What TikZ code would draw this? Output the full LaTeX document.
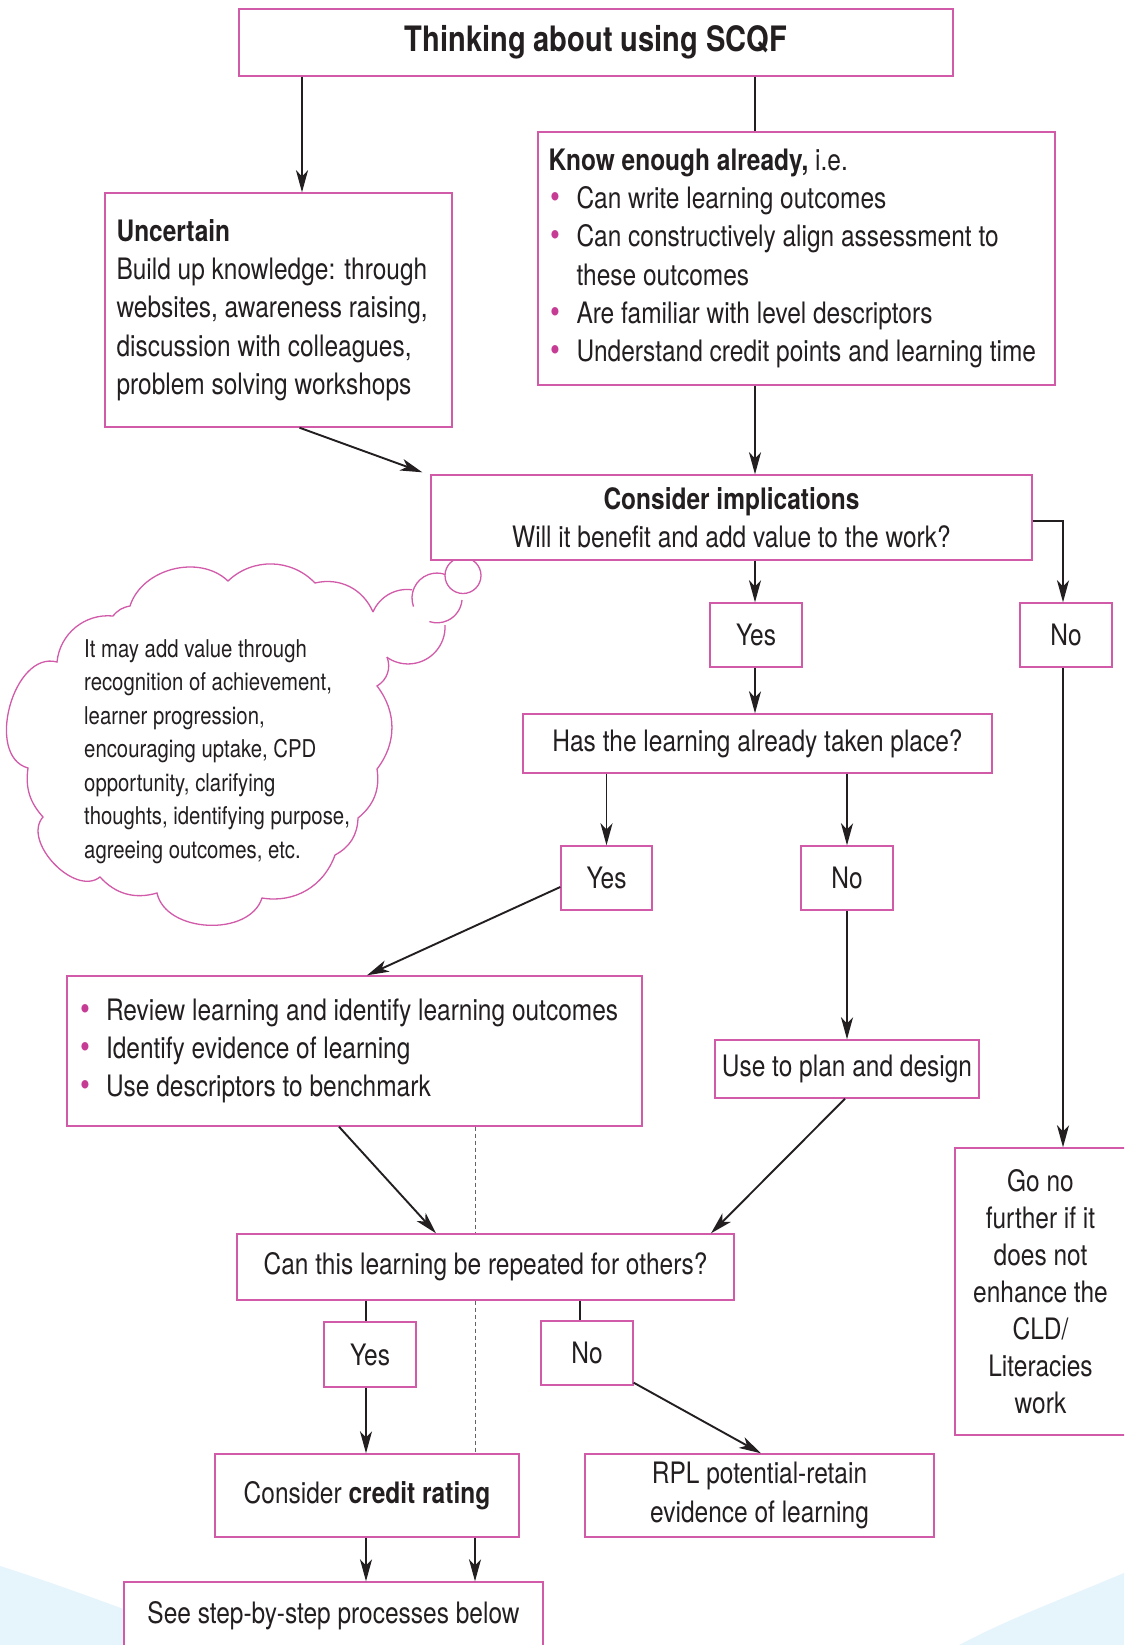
\documentclass[tikz,border=0pt]{standalone}
\usepackage{fontspec}
\setmainfont{TeX Gyre Heros}[FakeStretch=0.83]
\usetikzlibrary{arrows.meta,calc}
\definecolor{mag}{HTML}{D15AA9}
\definecolor{bulc}{HTML}{C63C95}
\definecolor{ink}{HTML}{231F20}
\definecolor{bgblue}{HTML}{E6F4FC}
\newcommand\bul{\makebox[28pt][l]{\hspace{2pt}\textcolor{bulc}{\fontsize{34}{34}\selectfont\textbullet}}}
\newcommand\ind{\hspace*{28pt}}
\begin{document}
\begin{tikzpicture}[x=1pt,y=-1pt,
  box/.style={draw=mag, line width=1.4pt, fill=white, inner sep=0pt, text=ink,
    font=\fontsize{29.5}{38.3}\selectfont, align=center},
  txt/.style={inner sep=0pt, text=ink, font=\fontsize{29.5}{38.3}\selectfont, align=left},
  arr/.style={draw=ink, line width=1.9pt, -{Stealth[length=22pt,width=12pt,inset=6pt]}},
  ln/.style={draw=ink, line width=1.9pt},
  dsh/.style={draw=ink!70, line width=0.9pt, dash pattern=on 4pt off 3pt},
  cloudline/.style={draw=mag, line width=1.3pt}
]
\useasboundingbox (0,0) rectangle (1124,1645);
\clip (0,0) rectangle (1124,1645);
\fill[white] (0,0) rectangle (1124,1645);
% light blue background
\fill[bgblue] (0,1566) .. controls (60,1585) and (150,1618) .. (230,1650) -- (0,1650) -- cycle;
\fill[bgblue] (1124,1573) .. controls (1060,1600) and (1000,1622) .. (950,1650) -- (1124,1650) -- cycle;

% named coordinates for connector columns
\coordinate (cL) at (302,0);
\coordinate (cSpine) at (755,0);
\coordinate (cDash) at (475,0);
\coordinate (cYes3) at (366,0);
\coordinate (cNo3) at (580,0);

% cloud
\coordinate (P1) at (57,662);
\coordinate (P2) at (113,616);
\coordinate (P3) at (130,606);
\coordinate (P4) at (228,581);
\coordinate (P5) at (315,583);
\coordinate (P6) at (373,612);
\coordinate (P7) at (387,657);
\coordinate (P8) at (377,686);
\coordinate (P9) at (377,769);
\coordinate (P10) at (358,818);
\coordinate (P11) at (335,855);
\coordinate (P12) at (262,898);
\coordinate (P13) at (157,893);
\coordinate (P14) at (100,877);
\coordinate (P15) at (43,817);
\coordinate (P16) at (28,768);
\draw[cloudline] (P7) to[bend left=40] (P8) to[bend left=38] (P9) to[bend left=30] (P10)
  to[bend left=30] (P11) to[bend left=40] (P12) to[bend left=75] (P13) to[bend left=32] (P14)
  to[bend left=85] (P15) to[bend left=25] (P16) to[bend left=90,looseness=1.05] (P1)
  to[bend left=45] (P2) to[bend left=20] (P3) to[bend left=58] (P4) to[bend left=45] (P5)
  to[bend left=40] (P6);
% thought bubbles
\draw[cloudline] (P6) arc[start angle=157, end angle=82, radius=37pt];
\draw[cloudline] (445,625) arc[start angle=3, end angle=-125, radius=37pt];
\draw[cloudline] (413.5,606.6) arc[start angle=200, end angle=70, radius=25pt];
\draw[cloudline] (462,600) arc[start angle=-5, end angle=-108, radius=25pt];
\draw[cloudline, fill=white] (463,575.5) circle[radius=18pt];
\node[txt, font=\fontsize{24.5}{33.5}\selectfont, anchor=west] (cloudtxt) at (84,751.7)
  {It may add value through\\recognition of achievement,\\learner progression,\\encouraging uptake, CPD\\opportunity, clarifying\\thoughts, identifying purpose,\\agreeing outcomes, etc.};

% dashed guide line
\node[box, minimum width=575pt, minimum height=150pt] (review) at (354.5,1051) {};
\node[box, minimum width=497pt, minimum height=66pt] (can) at (485.5,1267) {Can this learning be repeated for others?};
\node[box, minimum width=304pt, minimum height=83pt] (credit) at (367,1495.5) {Consider \textbf{credit rating}};
\draw[dsh] (review.south -| cDash) -- (can.north -| cDash);
\draw[dsh] (can.south -| cDash) -- (credit.north -| cDash);

% boxes
\node[box, minimum width=714pt, minimum height=67pt, font=\fontsize{35}{40}\selectfont\bfseries] (title) at (596,42.5) {Thinking about using SCQF};
\node[box, minimum width=347pt, minimum height=234pt] (unc) at (278.5,310) {};
\node[txt, anchor=west] (unctxt) at ([xshift=12pt]unc.west)
  {\textbf{Uncertain}\\Build up knowledge: through\\websites, awareness raising,\\discussion with colleagues,\\problem solving workshops};
\node[box, minimum width=517pt, minimum height=253pt] (know) at (796.5,258.5) {};
\node[txt, anchor=west] (knowtxt) at ([xshift=11pt]know.west)
  {\textbf{Know enough already,} i.e.\\\bul Can write learning outcomes\\\bul Can constructively align assessment to\\\ind these outcomes\\\bul Are familiar with level descriptors\\\bul Understand credit points and learning time};
\node[box, minimum width=601pt, minimum height=85pt] (cons) at (731.5,517.5)
  {\textbf{Consider implications}\\Will it benefit and add value to the work?};
\node[box, minimum width=92pt, minimum height=64pt] (yes1) at (756,635) {Yes};
\node[box, minimum width=92pt, minimum height=64pt] (no1) at (1066,635) {No};
\node[box, minimum width=469pt, minimum height=59pt] (has) at (757.5,743.5) {Has the learning already taken place?};
\node[box, minimum width=91pt, minimum height=64pt] (yes2) at (606.5,878) {Yes};
\node[box, minimum width=92pt, minimum height=64pt] (no2) at (847,878) {No};
\node[txt, anchor=west] (reviewtxt) at ([xshift=11.5pt]review.west)
  {\bul Review learning and identify learning outcomes\\\bul Identify evidence of learning\\\bul Use descriptors to benchmark};
\node[box, minimum width=264pt, minimum height=58pt] (plan) at (847,1069) {Use to plan and design};
\node[box, minimum width=171pt, minimum height=287pt, font=\fontsize{29.5}{37}\selectfont] (gonf) at (1040.5,1291.5)
  {Go no\\further if it\\does not\\enhance the\\CLD/\\Literacies\\work};
\node[box, minimum width=92pt, minimum height=65pt] (yes3) at (370,1354.5) {Yes};
\node[box, minimum width=92pt, minimum height=64pt] (no3) at (587,1353) {No};
\node[box, minimum width=349pt, minimum height=83pt] (rpl) at (759.5,1495.5) {RPL potential-retain\\evidence of learning};
\node[box, minimum width=419pt, minimum height=68pt] (see) at (333.5,1616) {See step-by-step processes below};

% connectors
\draw[arr] (title.south -| cL) -- (unc.north -| cL);
\draw[ln] (title.south -| cSpine) -- (know.north -| cSpine);
\draw[arr] (know.south -| cSpine) -- (cons.north -| cSpine);
\draw[arr] ([xshift=21pt]unc.south) -- ([xshift=-8pt,yshift=2pt]cons.north west);
\draw[arr] (cons.south -| cSpine) -- (yes1.north -| cSpine);
\draw[arr] ([yshift=-3.5pt]cons.east) -| ([xshift=-3pt]no1.north);
\draw[arr] (yes1.south -| cSpine) -- (has.north -| cSpine);
\draw[arr] (has.south -| yes2.north) -- (yes2.north);
\draw[arr] (has.south -| no2.north) -- (no2.north);
\draw[arr] ([yshift=-9pt]yes2.west) -- ([xshift=12.5pt]review.north);
\draw[arr] (no2.south) -- (plan.north);
\draw[arr] ([xshift=-3pt]no1.south) -- ([xshift=-3pt]no1.south |- gonf.north);
\draw[arr] ([xshift=-15.5pt]review.south) -- ([xshift=-49.5pt]can.north);
\draw[arr] ([xshift=-2pt]plan.south) -- ([xshift=225.5pt]can.north);
\draw[ln] (can.south -| cYes3) -- (yes3.north -| cYes3);
\draw[arr] (yes3.south -| cYes3) -- (credit.north -| cYes3);
\draw[ln] (can.south -| cNo3) -- (no3.north -| cNo3);
\draw[arr] ([yshift=3pt]no3.south east) -- ([xshift=1.5pt]rpl.north);
\draw[arr] (credit.south -| cYes3) -- (see.north -| cYes3);
\draw[arr] (credit.south -| cDash) -- (see.north -| cDash);
\end{tikzpicture}
\end{document}
